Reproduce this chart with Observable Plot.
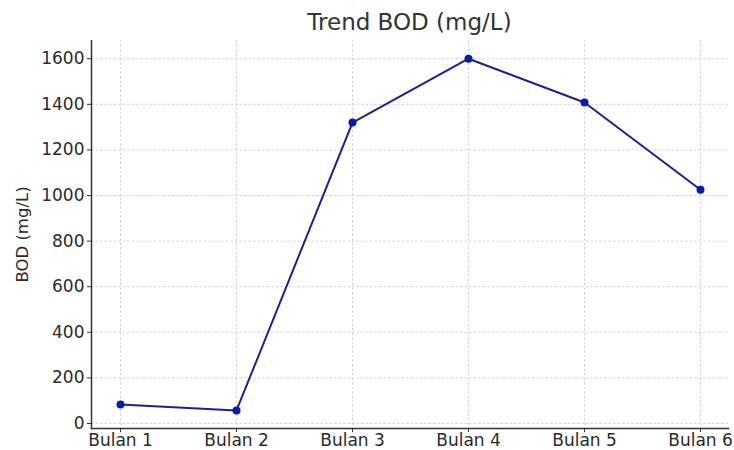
<!DOCTYPE html>
<html>
<head>
<meta charset="utf-8">
<script src="https://cdn.jsdelivr.net/npm/d3@7"></script>
<script src="https://cdn.jsdelivr.net/npm/@observablehq/plot@0.6"></script>
<style>
  html, body { margin: 0; padding: 0; background: #fff; }
  #wrap { width: 734px; height: 450px; position: relative; font-family: "DejaVu Sans", sans-serif; }
  #title { position: absolute; left: 0; top: 0; width: 819px; height: 40px; text-align: center; font-size: 23px; line-height: 44px; color: #333; }
  #chart { position: absolute; left: 0; top: 40px; }
</style>
</head>
<body>
<div id="wrap">
  <div id="title">Trend BOD (mg/L)</div>
  <div id="chart"></div>
</div>
<script>
const months = ["Bulan 1", "Bulan 2", "Bulan 3", "Bulan 4", "Bulan 5", "Bulan 6"];
const bod = [83, 57, 1320, 1600, 1408, 1025];
const yTicks = [0, 200, 400, 600, 800, 1000, 1200, 1400, 1600];
const yLabel = "BOD (mg/L)";

const data = months.map((m, i) => ({month: m, bod: bod[i]}));

const plot = Plot.plot({
  width: 734,
  height: 410,
  marginLeft: 91,
  marginRight: 6,
  marginTop: 0,
  marginBottom: 22,
  style: {fontFamily: "DejaVu Sans, sans-serif", fontSize: "17px", color: "#2a2a2a", background: "#fff"},
  x: {type: "point", domain: months, padding: 0.24, label: null},
  y: {domain: [-22, 1680], label: null},
  marks: [
    Plot.ruleY(yTicks, {stroke: "#c8c8c8", strokeWidth: 0.8, strokeDasharray: "2.5,2"}),
    Plot.ruleX(months, {stroke: "#c8c8c8", strokeWidth: 0.8, strokeDasharray: "2.5,2"}),
    Plot.axisY({ticks: yTicks, tickFormat: d3.format("d"), tickSize: 4, tickPadding: 3, label: null, fontSize: 17, stroke: "#333"}),
    Plot.axisX({tickSize: 4, tickPadding: 1, label: null, fontSize: 17, stroke: "#333"}),
    Plot.frame({anchor: "left", stroke: "#333", strokeWidth: 1.5}),
    Plot.frame({anchor: "bottom", stroke: "#333", strokeWidth: 1.5}),
    Plot.line(data, {x: "month", y: "bod", stroke: "#1f1f8c", strokeWidth: 2}),
    Plot.dot(data, {x: "month", y: "bod", r: 4, fill: "#0a1aae", stroke: "none"}),
    Plot.text([yLabel], {frameAnchor: "left", dx: -69, rotate: -90, textAnchor: "middle", fontSize: 16.5, fill: "#2a2a2a"})
  ]
});
document.getElementById("chart").appendChild(plot);
</script>
</body>
</html>
